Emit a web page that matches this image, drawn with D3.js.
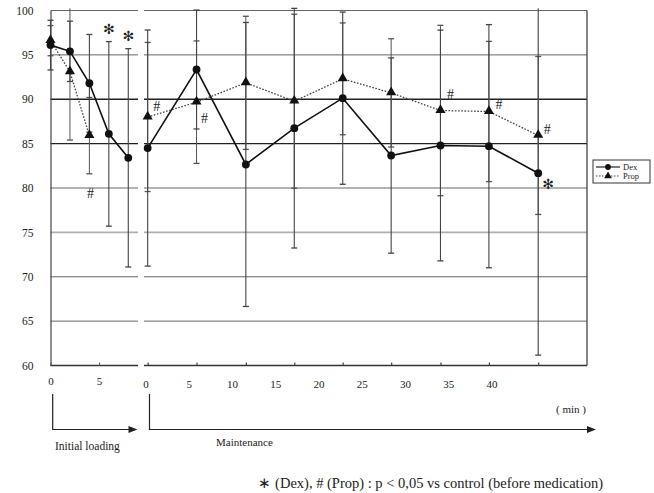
<!DOCTYPE html>
<html><head><meta charset="utf-8">
<script src="https://cdn.jsdelivr.net/npm/d3@7"></script>
<style>
html,body{margin:0;padding:0;background:#fff;}
svg{display:block;font-family:"Liberation Serif","Times New Roman",serif;}
svg text{font-family:"Liberation Serif","Times New Roman",serif;}
svg text.sym{font-family:"DejaVu Sans",sans-serif;}
</style></head>
<body><svg id="chart" width="654" height="493"></svg>
<script>
// ---------------- data ----------------
const yTicks = [60, 65, 70, 75, 80, 85, 90, 95, 100];
const loadTickLabels = [0, 5];
const maintTickLabels = [0, 5, 10, 15, 20, 25, 30, 35, 40];

const loadTimes = [0, 2, 4, 6, 8];
const dexLoad   = [96.1, 95.4, 91.8, 86.1, 83.4];
const dexLoadSD = [2.8, 3.4, 5.5, 10.4, 12.3];
const propLoadTimes = [0, 2, 4];
const propLoad   = [96.6, 93.1, 85.9];
const propLoadSD = [1.7, 7.7, 4.3];

const maintTimes = [0.25, 5.9, 11.6, 17.2, 22.8, 28.4, 34.1, 39.7, 45.4];
const dexMaint   = [84.5, 93.35, 82.65, 86.74, 90.12, 83.66, 84.79, 84.71, 81.67];
const dexMaintSD = [13.3, 6.7, 16.0, 13.5, 9.7, 11.0, 13.0, 13.7, 20.5];
const propMaint   = [88.0, 89.67, 91.85, 89.78, 92.3, 90.72, 88.73, 88.62, 85.92];
const propMaintSD = [8.4, 6.9, 7.5, 9.8, 6.3, 6.1, 9.6, 7.9, 8.9];

const dexSigLoad = [3, 4];          // indices with * (Dex)
const propSigLoad = [2];            // indices with # (Prop)
const propSigMaint = [0, 1, 6, 7, 8];
const dexSigMaint = [8];

const seriesNames = ["Dex", "Prop"];
const footnote = "\u2217 (Dex), # (Prop) : p < 0,05 vs control (before medication)";

// ---------------- layout ----------------
const svg = d3.select("#chart");
const y = d3.scaleLinear().domain([60, 100]).range([365.5, 10.5]);
const xL = d3.scaleLinear().domain([0, 9]).range([50.5, 138]);
const xR = d3.scaleLinear().domain([0, 40]).range([145.5, 491.5]);
const rightPanel = [144, 587];
const clampTop = 100.25;

function gridStyle(v) {
  if (v === 90 || v === 85) return {c: "#222", w: 1.3};
  if (v === 75) return {c: "#b0b0b0", w: 1.6};
  if (v === 60) return {c: "#333", w: 1.3};
  return {c: "#666", w: 1};
}
const grid = svg.append("g");
yTicks.forEach(v => {
  const s = gridStyle(v);
  [[xL.range()[0], xL.range()[1]], rightPanel].forEach(([a, b]) => {
    grid.append("line").attr("x1", a).attr("x2", b)
      .attr("y1", y(v)).attr("y2", y(v))
      .attr("stroke", s.c).attr("stroke-width", s.w);
  });
});
grid.append("line").attr("x1", rightPanel[1]).attr("x2", rightPanel[1])
  .attr("y1", y(100)).attr("y2", y(60)).attr("stroke", "#444").attr("stroke-width", 1.3);

const yAxis = svg.append("g").attr("transform", `translate(${xL.range()[0]},0)`)
  .call(d3.axisLeft(y).tickValues(yTicks).tickSize(0).tickPadding(17).tickFormat(d3.format("d")));
yAxis.attr("font-family", null);
yAxis.select(".domain").attr("stroke", "#444").attr("stroke-width", 1.2);
yAxis.selectAll("text").attr("font-size", 11.5).attr("fill", "#222");

const xAxisL = svg.append("g").attr("transform", `translate(0,${y(60)})`)
  .call(d3.axisBottom(xL).tickValues(loadTickLabels).tickSize(-3).tickPadding(12).tickFormat(d3.format("d")));
xAxisL.attr("font-family", null);
xAxisL.select(".domain").remove();
xAxisL.selectAll("line").attr("stroke", "#555");
xAxisL.selectAll("text").attr("font-size", 11).attr("fill", "#222");

const xAxisRt = svg.append("g").attr("transform", `translate(0,${y(60)})`)
  .call(d3.axisBottom(xR).tickValues(maintTimes).tickSize(-3).tickFormat(""));
xAxisRt.select(".domain").remove();
xAxisRt.selectAll("line").attr("stroke", "#444").attr("stroke-width", 1.2);
const xAxisRl = svg.append("g").attr("transform", `translate(0,${y(60)})`)
  .call(d3.axisBottom(xR).tickValues(maintTickLabels).tickSize(0).tickPadding(15).tickFormat(d3.format("d")));
xAxisRl.attr("font-family", null);
xAxisRl.select(".domain").remove();
xAxisRl.selectAll("text").attr("font-size", 11).attr("fill", "#222");

// ---------------- error bars ----------------
function errorBars(xs, xScale, vals, sds, color, width) {
  const g = svg.append("g");
  xs.forEach((t, i) => {
    const x = xScale(t);
    let hi = vals[i] + sds[i], lo = vals[i] - sds[i];
    const clipped = hi > clampTop;
    if (clipped) hi = clampTop;
    g.append("line").attr("x1", x).attr("x2", x).attr("y1", y(hi)).attr("y2", y(lo))
      .attr("stroke", color).attr("stroke-width", width);
    const caps = clipped ? [lo] : [hi, lo];
    caps.forEach(v => g.append("line").attr("x1", x - 3).attr("x2", x + 3)
      .attr("y1", y(v)).attr("y2", y(v)).attr("stroke", color).attr("stroke-width", 1.3));
  });
}
errorBars(propLoadTimes, xL, propLoad, propLoadSD, "#555", 1);
errorBars(maintTimes, xR, propMaint, propMaintSD, "#555", 1);
errorBars(loadTimes, xL, dexLoad, dexLoadSD, "#444", 1.1);
errorBars(maintTimes, xR, dexMaint, dexMaintSD, "#444", 1.1);

// ---------------- lines & markers ----------------
function series(xs, xScale, vals, dashed, marker) {
  const pts = xs.map((t, i) => [xScale(t), y(vals[i])]);
  svg.append("path").attr("d", d3.line()(pts)).attr("fill", "none")
    .attr("stroke", dashed ? "#444" : "#111")
    .attr("stroke-width", dashed ? 1.3 : 1.6)
    .attr("stroke-dasharray", dashed ? "1.6,1.6" : null);
  const sym = d3.symbol().type(marker === "circle" ? d3.symbolCircle : d3.symbolTriangle)
    .size(marker === "circle" ? 48 : 44);
  svg.append("g").selectAll("path").data(pts).join("path")
    .attr("transform", d => `translate(${d[0]},${d[1] + (marker === "circle" ? 0 : -0.5)})`)
    .attr("d", sym).attr("fill", "#111");
}
series(propLoadTimes, xL, propLoad, true, "triangle");
series(maintTimes, xR, propMaint, true, "triangle");
series(loadTimes, xL, dexLoad, false, "circle");
series(maintTimes, xR, dexMaint, false, "circle");

// ---------------- significance marks ----------------
const ann = svg.append("g").attr("fill", "#222");
function star(x, yy) {
  ann.append("text").attr("class", "sym").attr("x", x).attr("y", yy).attr("text-anchor", "middle")
    .attr("dominant-baseline", "central").attr("font-size", 14).text("\u273B");
}
function hash(x, yy) {
  ann.append("text").attr("x", x).attr("y", yy).attr("text-anchor", "middle")
    .attr("dominant-baseline", "central").attr("font-size", 14).text("#");
}
dexSigLoad.forEach(i => star(xL(loadTimes[i]), y(dexLoad[i] + dexLoadSD[i]) - 13));
propSigLoad.forEach(i => hash(xL(propLoadTimes[i]) + 1, y(propLoad[i] - propLoadSD[i]) + 20));
const propOff = {0: [9, -11], 1: [8, 16], 6: [10, -16], 7: [10, -7], 8: [9, -6]};
propSigMaint.forEach(i => hash(xR(maintTimes[i]) + propOff[i][0], y(propMaint[i]) + propOff[i][1]));
dexSigMaint.forEach(i => star(xR(maintTimes[i]) + 10, y(dexMaint[i]) + 11));

// ---------------- legend ----------------
const lg = svg.append("g").attr("transform", "translate(593,160)");
lg.append("rect").attr("width", 57).attr("height", 23).attr("fill", "#fff")
  .attr("stroke", "#333").attr("stroke-width", 1);
seriesNames.forEach((n, i) => {
  const yy = 7 + i * 9;
  lg.append("line").attr("x1", 3).attr("x2", 27).attr("y1", yy).attr("y2", yy)
    .attr("stroke", i ? "#444" : "#111").attr("stroke-width", 1.1)
    .attr("stroke-dasharray", i ? "1.5,1.5" : null);
  lg.append("path").attr("transform", `translate(15,${yy})`)
    .attr("d", d3.symbol().type(i ? d3.symbolTriangle : d3.symbolCircle).size(26)())
    .attr("fill", "#111");
  lg.append("text").attr("x", 30).attr("y", yy).attr("dominant-baseline", "central")
    .attr("font-size", 8.5).attr("fill", "#222").text(n);
});

// ---------------- phase brackets ----------------
const br = svg.append("g").attr("stroke", "#222").attr("stroke-width", 1.2).attr("fill", "none");
function bracket(x0, x1) {
  br.append("path").attr("d", `M${x0},394 V429.5 H${x1 - 8}`);
  svg.append("path").attr("d", `M${x1 - 9},426 L${x1},429.5 L${x1 - 9},433 Z`).attr("fill", "#222");
}
bracket(52.7, 137.5);
bracket(149.5, 596);

const txt = svg.append("g").attr("fill", "#222");
txt.append("text").attr("x", 55).attr("y", 450).attr("font-size", 11.5).text("Initial loading");
txt.append("text").attr("x", 216).attr("y", 446).attr("font-size", 11).text("Maintenance");
txt.append("text").attr("x", 586).attr("y", 413).attr("text-anchor", "end").attr("font-size", 11).text("( min )");
txt.append("text").attr("x", 603).attr("y", 488).attr("text-anchor", "end").attr("font-size", 14.5).text(footnote);
</script>
</body></html>
